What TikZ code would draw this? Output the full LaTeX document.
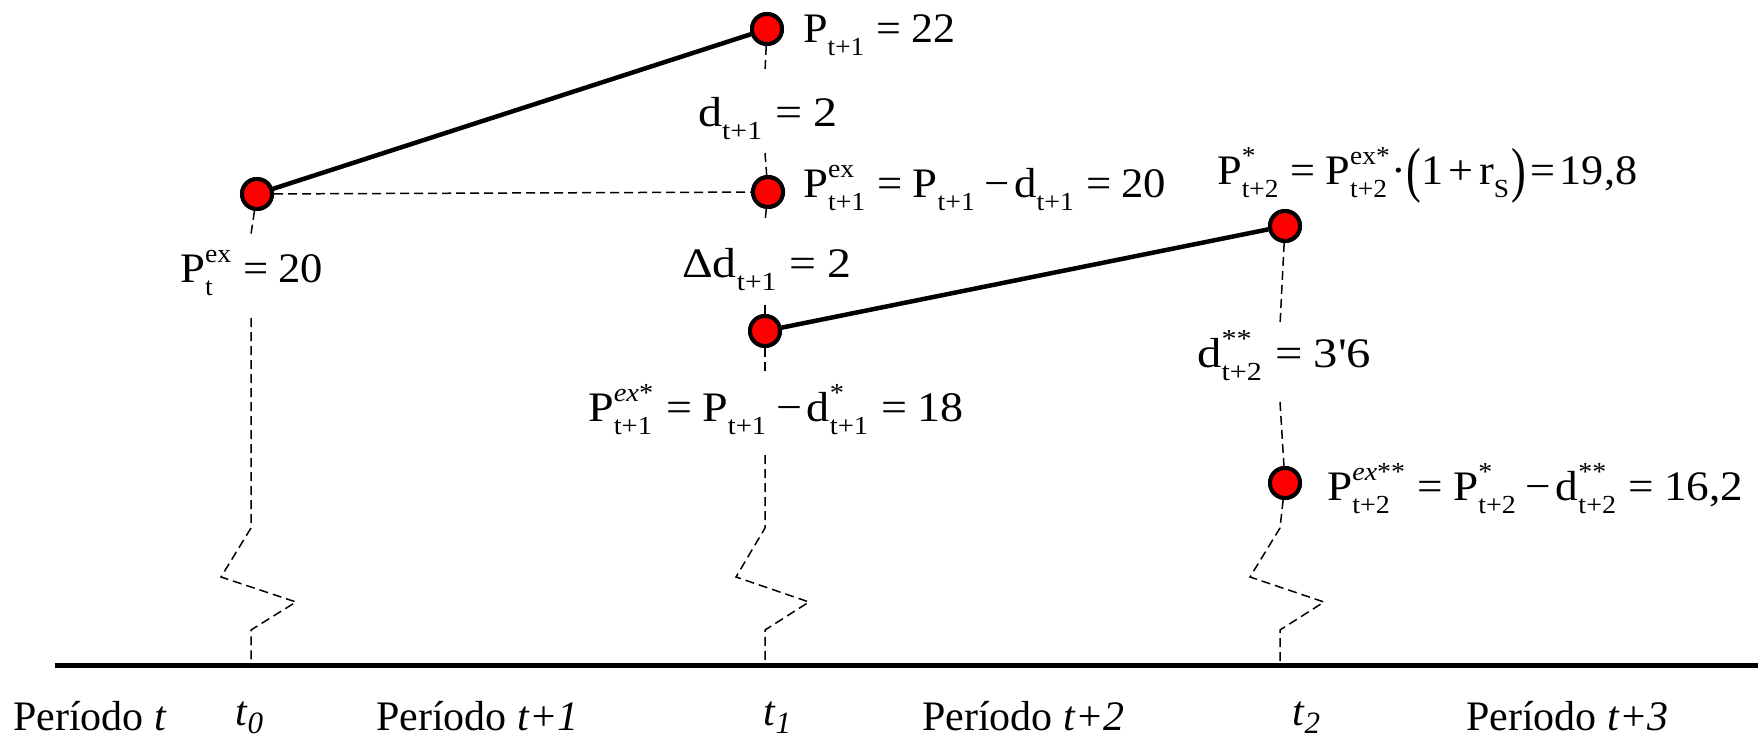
\documentclass[tikz,border=0pt]{standalone}
\usepackage{fontspec}
\setmainfont{Liberation Serif}
\newcommand{\ssc}[2]{{\fontsize{26}{26}\selectfont
  \setbox0=\hbox{\raisebox{20pt}{#1}}%
  \setbox2=\hbox{\raisebox{-13pt}{#2}}%
  \ifdim\wd0>\wd2 \rlap{\box2}\box0 \else\rlap{\box0}\box2\fi}}
\newcommand{\EQ}{\hspace{0.28em}=\hspace{0.22em}}
\newcommand{\MI}{\hspace{0.22em}−\hspace{0.1em}}
\newcommand{\PL}{\hspace{0.12em}+\hspace{0.12em}}
\newcommand{\bigpar}[1]{\raisebox{-0.13em}{\scalebox{1}[1.45]{#1}}}
\newcommand{\fitw}[2]{\resizebox{#1pt}{\height}{#2}}
\newcommand{\tsub}[1]{\textit{t}\raisebox{-8pt}{\fontsize{31}{31}\selectfont\textit{#1}}}
\begin{document}
\begin{tikzpicture}[x=1pt,y=-1pt,
  dot/.style={circle, draw=black, fill=red, line width=4pt, minimum size=30pt, inner sep=0pt},
  lab/.style={anchor=base west, inner sep=0pt, font=\fontsize{42}{50}\selectfont},
  guide/.style={draw=black, line width=1.5pt, dash pattern=on 9pt off 5pt},
  thickline/.style={draw=black, line width=4.5pt},
  axisline/.style={draw=black, line width=5pt}]
\useasboundingbox (0,0) rectangle (1758,743);
\fill[white] (0,0) rectangle (1758,743);

% points
\node[dot] (A) at (257,194) {};
\node[dot] (B) at (767,29) {};
\node[dot] (C) at (768,192) {};
\node[dot] (D) at (765,331) {};
\node[dot] (E) at (1285,226) {};
\node[dot] (F) at (1285,483) {};

% coordinates of the dashed guides
\coordinate (a1) at (251,234);
\coordinate (a2) at (251,318);
\coordinate (a3) at (251,528);
\coordinate (a4) at (221,577);
\coordinate (a5) at (296,602);
\coordinate (a6) at (251,630);
\coordinate (a7) at (251,665);

\coordinate (b1) at (765,72);
\coordinate (b2) at (765,153);
\coordinate (b3) at (765,222);
\coordinate (b4) at (765,305);
\coordinate (b5) at (765,373);
\coordinate (b6) at (765,455);
\coordinate (b7) at (765,528);
\coordinate (b8) at (736,577);
\coordinate (b9) at (809,602);
\coordinate (b10) at (765,630);
\coordinate (b11) at (765,665);

\coordinate (c1) at (1280,325);
\coordinate (c2) at (1280,402);
\coordinate (c3) at (1280,528);
\coordinate (c4) at (1250,577);
\coordinate (c5) at (1324,602);
\coordinate (c6) at (1280,630);
\coordinate (c7) at (1280,665);

\coordinate (ax0) at (55,665);
\coordinate (ax1) at (1758,665);

% dashed guides
\draw[guide] (A) -- (a1);
\draw[guide] (a2) -- (a3) -- (a4) -- (a5) -- (a6) -- (a7);
\draw[guide] (B) -- (b1);
\draw[guide] (b2) -- (C);
\draw[guide] (C) -- (b3);
\draw[guide] (b4) -- (D);
\draw[guide] (D) -- (b5);
\draw[guide] (b6) -- (b7) -- (b8) -- (b9) -- (b10) -- (b11);
\draw[guide] (E) -- (c1);
\draw[guide] (c2) -- (F);
\draw[guide] (F) -- (c3) -- (c4) -- (c5) -- (c6) -- (c7);
\draw[guide] (A) -- (C);

% solid lines
\draw[thickline] (A) -- (B);
\draw[thickline] (D) -- (E);
\draw[axisline] (ax0) -- (ax1);

% redraw dots on top
\node[dot] at (A) {};
\node[dot] at (B) {};
\node[dot] at (C) {};
\node[dot] at (D) {};
\node[dot] at (E) {};
\node[dot] at (F) {};

% labels
\node[lab] (L0) at (180,283) {\fitw{143}{P\ssc{ex}{t}\EQ 20}};
\node[lab] (LB) at (803,43) {\fitw{152}{P\ssc{}{t+1}\EQ 22}};
\node[lab] (Ld1) at (698,127) {\fitw{139}{d\ssc{}{t+1}\EQ 2}};
\node[lab] (LC) at (803,198) {\fitw{363}{P\ssc{ex}{t+1}\EQ P\ssc{}{t+1}\MI d\ssc{}{t+1}\EQ 20}};
\node[lab] (LDd) at (682,277) {\fitw{169}{Δd\ssc{}{t+1}\EQ 2}};
\node[lab] (LD) at (588,421) {\fitw{375}{P\ssc{\textit{ex}*}{t+1}\EQ P\ssc{}{t+1}\MI d\ssc{*}{t+1}\EQ 18}};
\node[lab] (LE) at (1217,185) {\fitw{420}{P\ssc{*}{t+2}\EQ P\ssc{ex*}{t+2}\hspace{0.05em}·\bigpar{(}1\PL r\ssc{}{S}\hspace{0.05em}\bigpar{)}\hspace{0.1em}=\hspace{0.1em}19,8}};
\node[lab] (Ld2) at (1197,367) {\fitw{174}{d\ssc{**}{t+2}\EQ 3\textquotesingle 6}};
\node[lab] (LF) at (1327,500) {\fitw{416}{P\ssc{\textit{ex}**}{t+2}\EQ P\ssc{*}{t+2}\MI d\ssc{**}{t+2}\EQ 16,2}};

% axis labels
\node[lab] (p0) at (13,730) {Período \textit{t}};
\node[lab] (t0) at (235,725) {\tsub{0}};
\node[lab] (p1) at (376,730) {Período \textit{t+1}};
\node[lab] (t1) at (763,725) {\tsub{1}};
\node[lab] (p2) at (922,730) {Período \textit{t+2}};
\node[lab] (t2) at (1292,725) {\tsub{2}};
\node[lab] (p3) at (1466,730) {Período \textit{t+3}};
\end{tikzpicture}
\end{document}
